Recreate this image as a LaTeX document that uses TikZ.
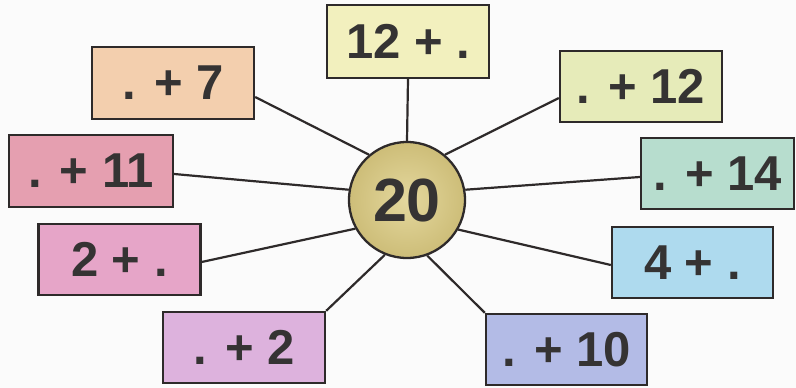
\documentclass[tikz,border=0pt]{standalone}
\usepackage{fontspec}
\setmainfont{Liberation Sans}
\definecolor{txt}{HTML}{353333}
\definecolor{edge}{HTML}{2E2A2A}
\definecolor{cTop}{HTML}{F2F0BE}
\definecolor{cSeven}{HTML}{F3CFAE}
\definecolor{cEleven}{HTML}{E59FB0}
\definecolor{cTwelve}{HTML}{E6EBB9}
\definecolor{cFourteen}{HTML}{B7DDCE}
\definecolor{cTwoP}{HTML}{E6A5C8}
\definecolor{cPTwo}{HTML}{DDB2DD}
\definecolor{cFourP}{HTML}{AEDAEE}
\definecolor{cTen}{HTML}{B3BBE6}
\definecolor{cIn}{HTML}{E4D89E}
\definecolor{cOut}{HTML}{CDBD78}
\begin{document}
\begin{tikzpicture}[x=1pt,y=-1pt,
  box/.style={draw=edge, line width=2.3pt, rectangle, inner sep=0pt,
    minimum width=162pt, minimum height=71pt,
    font=\fontsize{49}{49}\selectfont\bfseries, text=txt},
  hub/.style={draw=edge, line width=2.3pt, circle, inner sep=0pt,
    minimum size=116pt, inner color=cIn, outer color=cOut,
    font=\fontsize{61}{61}\selectfont\bfseries, text=txt},
  conn/.style={draw=edge, line width=2.2pt}]
\fill[white!97!gray] (0,0) rectangle (796,388);
\useasboundingbox (0,0) rectangle (796,388);

\node[hub] (c) at (407,200) {20};

\node[box, fill=cTop, minimum height=73pt] (top) at (408,41.5) {12 + .};
\node[box, fill=cSeven, minimum height=72pt] (b7) at (173,83) {. + 7};
\node[box, fill=cEleven, minimum width=164pt, minimum height=72pt] (b11) at (91,171) {. + 11};
\node[box, fill=cTwelve] (b12) at (641,86.5) {. + 12};
\node[box, fill=cFourteen, minimum width=153pt] (b14) at (717.5,173.5) {. + 14};
\node[box, fill=cTwoP] (b2p) at (119.5,259.5) {2 + .};
\node[box, fill=cPTwo] (bp2) at (244,347.5) {. + 2};
\node[box, fill=cFourP, minimum width=161pt] (b4p) at (692.5,262.5) {4 + .};
\node[box, fill=cTen, minimum width=161pt] (b10) at (566.5,349.5) {. + 10};

\coordinate (p7) at ([yshift=-14pt]b7.east);
\coordinate (p11) at ([yshift=-3pt]b11.east);
\coordinate (p12) at ([yshift=-11.5pt]b12.west);
\coordinate (p14) at ([yshift=-3.5pt]b14.west);
\coordinate (p2p) at ([yshift=-2.5pt]b2p.east);
\coordinate (p4p) at ([yshift=-2.5pt]b4p.west);

\draw[conn] (top.south) -- (c.90);
\draw[conn] (p7) -- (c.130);
\draw[conn] (p12) -- (c.50);
\draw[conn] (p11) -- (c.170);
\draw[conn] (p14) -- (c.10);
\draw[conn] (p2p) -- (c.209);
\draw[conn] (p4p) -- (c.330);
\draw[conn] (bp2.north east) -- (c.248);
\draw[conn] (b10.north west) -- (c.290);
\end{tikzpicture}
\end{document}
